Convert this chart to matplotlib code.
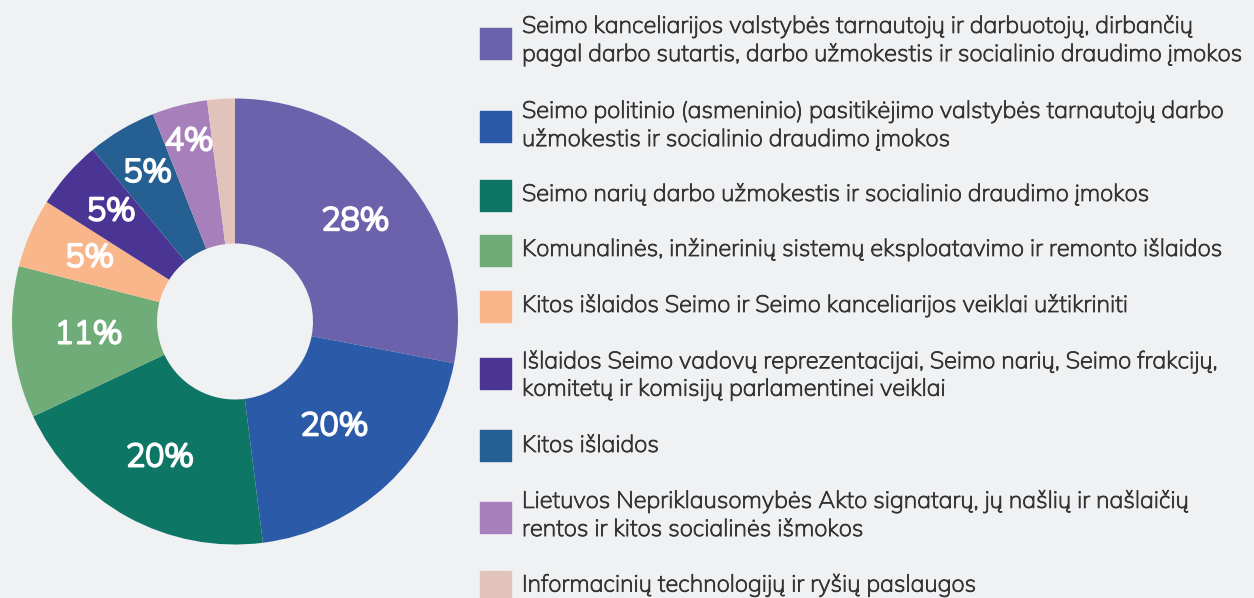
import numpy as np
import matplotlib.pyplot as plt
import matplotlib.patheffects as pe

shares = [28, 20, 20, 11, 5, 5, 5, 4, 2]
pct_labels = ['28%', '20%', '20%', '11%', '5%', '5%', '5%', '4%', '']
categories = [
    'Seimo kanceliarijos valstybės tarnautojų ir darbuotojų, dirbančių\npagal darbo sutartis, darbo užmokestis ir socialinio draudimo įmokos',
    'Seimo politinio (asmeninio) pasitikėjimo valstybės tarnautojų darbo\nužmokestis ir socialinio draudimo įmokos',
    'Seimo narių darbo užmokestis ir socialinio draudimo įmokos',
    'Komunalinės, inžinerinių sistemų eksploatavimo ir remonto išlaidos',
    'Kitos išlaidos Seimo ir Seimo kanceliarijos veiklai užtikriniti',
    'Išlaidos Seimo vadovų reprezentacijai, Seimo narių, Seimo frakcijų,\nkomitetų ir komisijų parlamentinei veiklai',
    'Kitos išlaidos',
    'Lietuvos Nepriklausomybės Akto signatarų, jų našlių ir našlaičių\nrentos ir kitos socialinės išmokos',
    'Informacinių technologijų ir ryšių paslaugos',
]
colors = ['#6B62AB', '#2B5BA8', '#0D7665', '#6FAC77', '#F9B68A',
          '#4A3494', '#266093', '#A77FBA', '#E2C3BC']
# radial position of the percent labels (fraction of outer radius)
label_r = [0.70, 0.65, 0.70, 0.66, 0.71, 0.74, 0.77, 0.83, 0.7]

font = ['Mulish', 'Nunito Sans', 'DejaVu Sans']
bg = '#F0F1F3'
txt_col = '#333333'
W, H = 1254, 598
fig = plt.figure(figsize=(W / 100, H / 100), dpi=100, facecolor=bg)

cx, cy, R = 235, 321.5, 223
ax = fig.add_axes([(cx - R) / W, (H - cy - R) / H, 2 * R / W, 2 * R / H])
ax.set_facecolor(bg)
wedges, _ = ax.pie(shares, colors=colors, startangle=90, counterclock=False,
                   radius=1, wedgeprops=dict(width=1 - 78 / R, linewidth=0))
ax.set_xlim(-1, 1)
ax.set_ylim(-1, 1)
ax.set_aspect('equal')
ax.axis('off')

# the installed Mulish only has its light default weight, so thicken with a stroke
bold = [pe.withStroke(linewidth=1.7, foreground='white')]
for w, lab, r in zip(wedges, pct_labels, label_r):
    ang = np.deg2rad((w.theta1 + w.theta2) / 2)
    ax.text(r * np.cos(ang), r * np.sin(ang), lab, ha='center', va='center',
            color='white', fontsize=23, family=font, path_effects=bold)

# legend: text centre and box centre (pixels from top)
text_y = [41, 126, 195, 250, 306, 376, 446, 516, 586]
box_y = [43.5, 126, 195, 250, 306, 373, 445, 517, 586]
regular = [pe.withStroke(linewidth=0.6, foreground=txt_col)]
for col, txt, ty, by in zip(colors, categories, text_y, box_y):
    fig.patches.append(plt.Rectangle((480 / W, (H - by - 15.5) / H), 31 / W, 31 / H,
                                     transform=fig.transFigure, color=col))
    fig.text(522 / W, (H - ty) / H, txt, ha='left', va='center', fontsize=17,
             color=txt_col, family=font, linespacing=1.32, path_effects=regular)

fig.savefig('out.png', dpi=100, facecolor=bg)
